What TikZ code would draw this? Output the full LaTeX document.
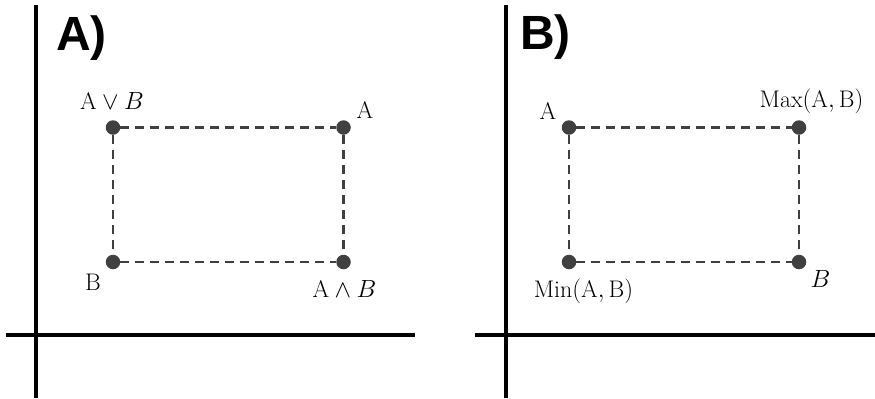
\documentclass[tikz,border=0pt]{standalone}
\usepackage{fontspec}
\newfontfamily\panelfont{Liberation Sans}
\begin{document}
\begin{tikzpicture}[x=1bp,y=-1bp,
  axis/.style={line width=4bp,black},
  dotpt/.style={circle,fill=dotgray,inner sep=0pt,minimum size=14.5bp},
  link/.style={dash pattern=on 9bp off 6bp,line width=2.5bp,dotgray},
  lbl/.style={anchor=base,inner sep=0pt,font=\fontsize{24bp}{28bp}\selectfont},
  panel/.style={anchor=base west,inner sep=0pt,font=\panelfont\bfseries\fontsize{48bp}{52bp}\selectfont}]
\definecolor{dotgray}{HTML}{404040}
\useasboundingbox (0,0) rectangle (875,398);
% axes left
\coordinate (lyt) at (36,5);
\coordinate (lyb) at (36,398);
\coordinate (lxl) at (6,335);
\coordinate (lxr) at (415,335);
\draw[axis] (lyt) -- (lyb);
\draw[axis] (lxl) -- (lxr);
% axes right
\coordinate (ryt) at (505.5,5);
\coordinate (ryb) at (505.5,398);
\coordinate (rxl) at (475,335);
\coordinate (rxr) at (875,335);
\draw[axis] (ryt) -- (ryb);
\draw[axis] (rxl) -- (rxr);
% panel letters
\node[panel] (pa) at (56,50) {A)};
\node[panel] (pb) at (520,49) {B)};
% left points
\node[dotpt] (ltl) at (113,127.5) {};
\node[dotpt] (ltr) at (343.5,127.5) {};
\node[dotpt] (lbl) at (113,262) {};
\node[dotpt] (lbr) at (343.5,262) {};
\draw[link] (ltl) -- (ltr);
\draw[link] (lbl) -- (lbr);
\draw[link] (ltl) -- (lbl);
\draw[link] (ltr) -- (lbr);
\node[lbl] (tor) at (112,109) {$\mathrm{A}\vee B$};
\node[lbl] (ta) at (365,118) {$\mathrm{A}$};
\node[lbl] (tb) at (93,290) {$\mathrm{B}$};
\node[lbl] (tand) at (344.5,297) {$\mathrm{A}\wedge B$};
% right points
\node[dotpt] (rtl) at (569,127.5) {};
\node[dotpt] (rtr) at (799,127.5) {};
\node[dotpt] (rbl) at (569,262) {};
\node[dotpt] (rbr) at (799,262) {};
\draw[link] (rtl) -- (rtr);
\draw[link] (rbl) -- (rbr);
\draw[link] (rtl) -- (rbl);
\draw[link] (rtr) -- (rbr);
\node[lbl] (ra) at (548,119) {$\mathrm{A}$};
\node[lbl] (rmax) at (811.5,107) {$\mathrm{Max(A,B)}$};
\node[lbl] (rmin) at (583.5,297) {$\mathrm{Min(A,B)}$};
\node[lbl] (rb) at (820.5,287) {$B$};
\end{tikzpicture}
\end{document}
